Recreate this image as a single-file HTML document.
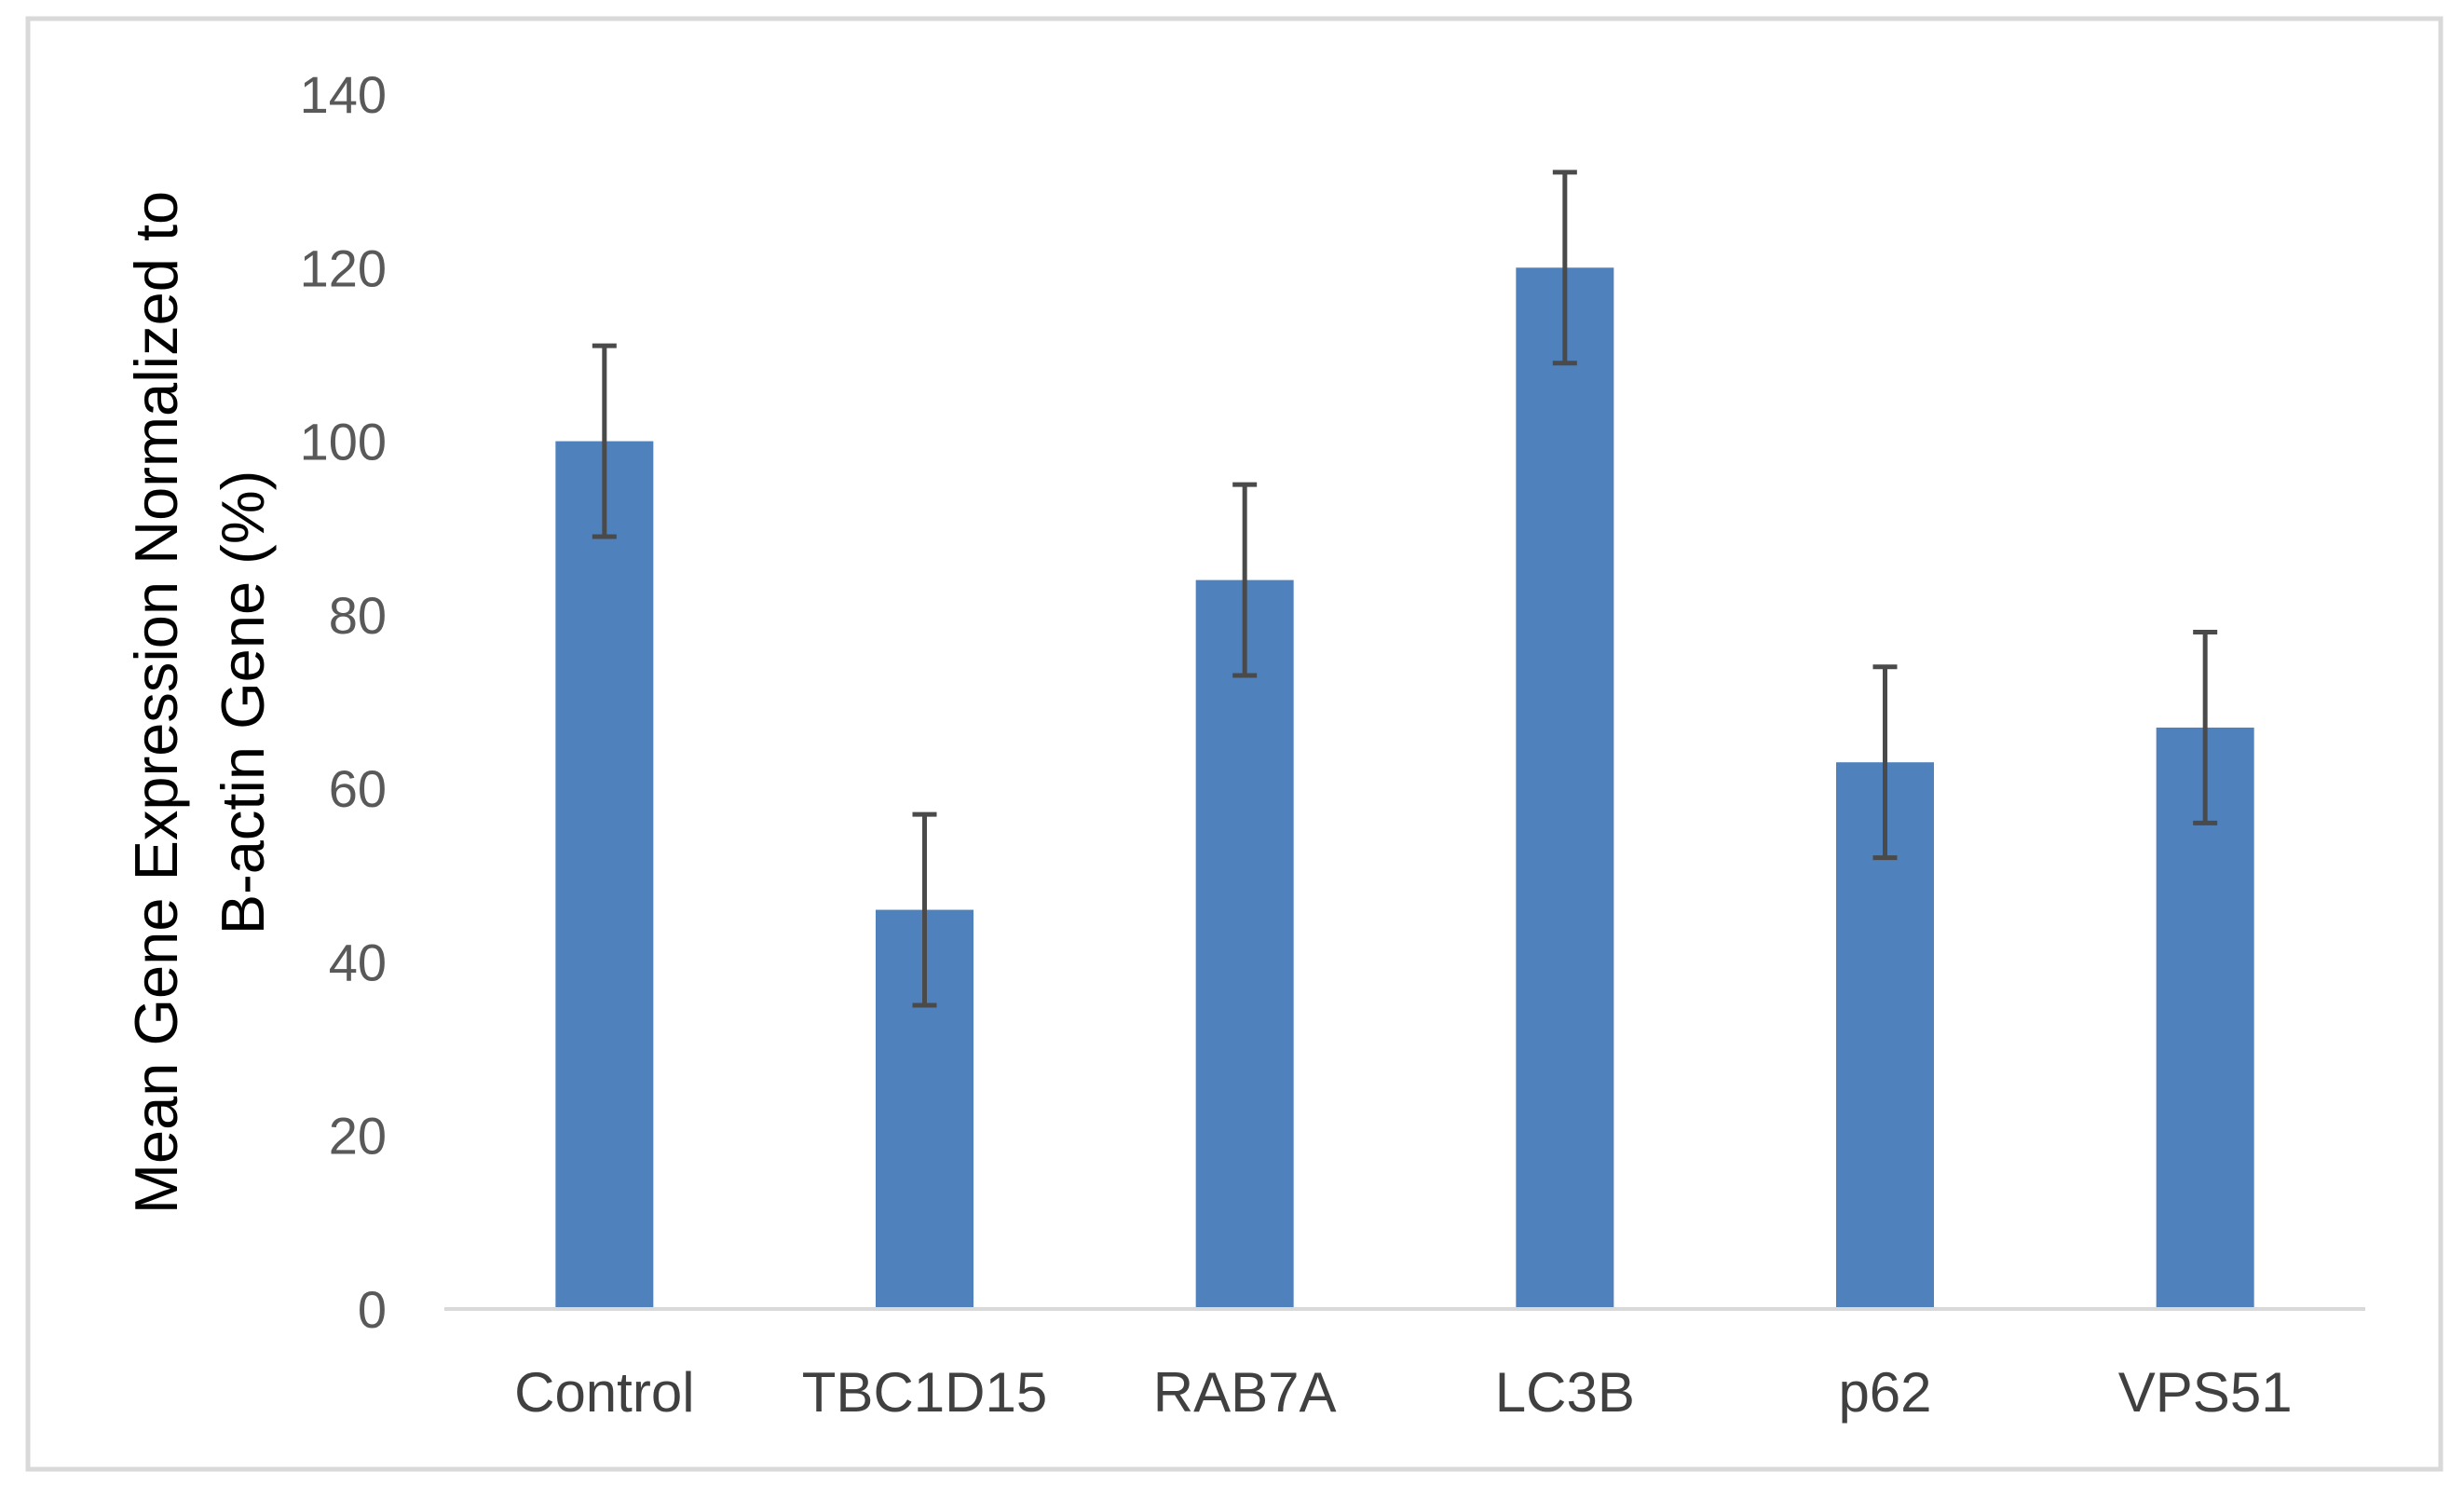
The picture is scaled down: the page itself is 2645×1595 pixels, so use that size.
<!DOCTYPE html>
<html><head><meta charset="utf-8"><style>
html,body{margin:0;padding:0;background:#fff;}
svg{display:block;font-family:"Liberation Sans",sans-serif;}
</style></head><body>
<svg id="chart" width="2645" height="1595" viewBox="0 0 2645 1595">
<rect x="30" y="20" width="2590" height="1557" fill="#fff" stroke="#d9d9d9" stroke-width="5"/>
<g id="yticks"></g>
<g id="bars"></g>
<line x1="477" x2="2539" y1="1405" y2="1405" stroke="#d9d9d9" stroke-width="4"/>
<g id="xlabels"></g>
<text transform="translate(190,754) rotate(-90)" text-anchor="middle" font-size="65" fill="#000">Mean Gene Expression Normalized to</text>
<text transform="translate(283,754) rotate(-90)" text-anchor="middle" font-size="65" fill="#000">B-actin Gene (%)</text>
</svg>
<script>
const categories = ["Control","TBC1D15","RAB7A","LC3B","p62","VPS51"];
const values = [100,46,84,120,63,67];
const errors = [11,11,11,11,11,11];
const yTicks = [0,20,40,60,80,100,120,140];

const NS="http://www.w3.org/2000/svg";
const left=477,right=2539,y0=1405,y140=101,yMax=140;
function yScale(v){return y0-(v/yMax)*(y0-y140);}
const band=(right-left)/categories.length;
function xCenter(i){return left+band*(i+0.5);}
function mk(tag,attrs,parent){const e=document.createElementNS(NS,tag);for(const k in attrs)e.setAttribute(k,attrs[k]);parent.appendChild(e);return e;}

const yg=document.getElementById('yticks');
yTicks.forEach(t=>{
  const el=mk('text',{x:415,y:yScale(t)+20,'text-anchor':'end','font-size':'56',fill:'#595959'},yg);
  
  
  el.textContent=t;
});
const bg=document.getElementById('bars');
const bw=105;
values.forEach((v,i)=>{
  const cx=xCenter(i);
  const r=mk('rect',{x:cx-bw/2,y:yScale(v),width:bw,height:y0-yScale(v),fill:'#4f81bd'},bg);
  
  
  const g=mk('g',{stroke:'#4a4a4a','stroke-width':'5'},bg);
  
  
  const top=yScale(v+errors[i]),bot=yScale(v-errors[i]);
  mk('line',{x1:cx,x2:cx,y1:top,y2:bot},g);
  mk('line',{x1:cx-13,x2:cx+13,y1:top,y2:top},g);
  mk('line',{x1:cx-13,x2:cx+13,y1:bot,y2:bot},g);
});
const xg=document.getElementById('xlabels');
categories.forEach((c,i)=>{
  const el=mk('text',{x:xCenter(i),y:1515,'text-anchor':'middle','font-size':'60',fill:'#404040'},xg);
  
  
  el.textContent=c;
});
</script>
</body></html>
